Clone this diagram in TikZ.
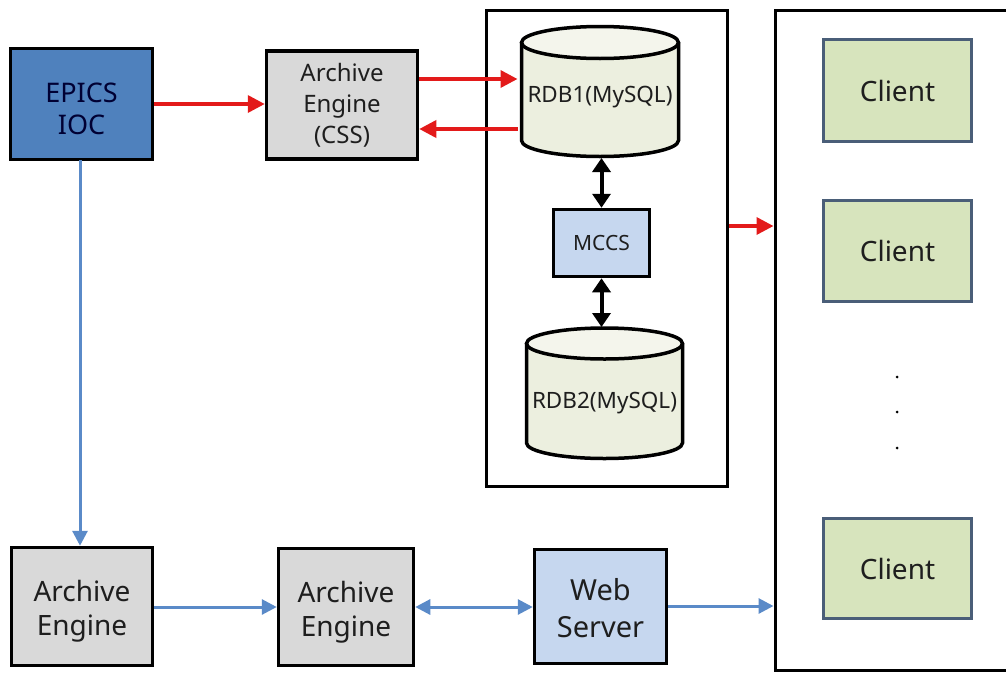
\documentclass[tikz,border=0pt]{standalone}
\usepackage{fontspec}
\setmainfont{Noto Sans}
\usetikzlibrary{arrows.meta}
\definecolor{epicsblue}{HTML}{4F81BD}
\definecolor{boxgray}{HTML}{D9D9D9}
\definecolor{lightblue}{HTML}{C6D7EF}
\definecolor{cylfill}{HTML}{ECEFDF}
\definecolor{clientfill}{HTML}{D7E4BD}
\definecolor{clientedge}{HTML}{4A5E78}
\definecolor{arrred}{HTML}{E31A1A}
\definecolor{arrblue}{HTML}{5A8AC8}
\definecolor{txt}{HTML}{1E1E1E}
\newcommand{\dbcyl}[5]{%
  \fill[cylfill] ({#1-#2},-#3) -- ({#1-#2},-#4) arc[start angle=180,end angle=360,x radius=#2,y radius=#5] -- ({#1+#2},-#3) arc[start angle=0,end angle=180,x radius=#2,y radius=#5] -- cycle;
  \fill[cylfill!60!white] (#1,-#3) ellipse[x radius=#2,y radius=#5];
  \draw[line width=3.5pt] ({#1-#2},-#3) -- ({#1-#2},-#4) arc[start angle=180,end angle=360,x radius=#2,y radius=#5] -- ({#1+#2},-#3);
  \draw[line width=3.5pt] (#1,-#3) ellipse[x radius=#2,y radius=#5];
}
\tikzset{
  box/.style={draw=black, line width=3.5pt, text=txt, align=center, inner sep=0pt},
  boxtext/.style={text=txt, align=center, inner sep=0pt},
  clientbox/.style={draw=clientedge, fill=clientfill, line width=3pt, text=txt, inner sep=0pt,
     minimum width=148pt, font=\fontsize{28}{33}\selectfont},
  frame/.style={draw=black, line width=3.5pt, anchor=north west, inner sep=0pt},
  redarrow/.style={draw=arrred, line width=3.5pt, -{Triangle[length=17pt,width=17pt]}},
  bluearrow/.style={draw=arrblue, line width=3pt, -{Triangle[length=15pt,width=15pt]}},
  bluedouble/.style={draw=arrblue, line width=3pt, {Triangle[length=15pt,width=15pt]}-{Triangle[length=15pt,width=15pt]}},
  blackdouble/.style={draw=black, line width=4pt, {Triangle[length=14pt,width=18pt]}-{Triangle[length=14pt,width=18pt]}},
  cyltext/.style={text=txt, inner sep=0pt, font=\fontsize{22.5}{26}\selectfont},
  hidden/.style={inner sep=0pt, outer sep=0pt}
}
\begin{document}
\begin{tikzpicture}[x=1pt,y=1pt]
\clip (0,0) rectangle (1006,-672);
\fill[white] (0,0) rectangle (1006,-672);

% containers
\node[frame, minimum width=241pt, minimum height=476pt] (c1) at (484.5,-8.5) {};
\node[frame, minimum width=240pt, minimum height=660pt] (c2) at (773.5,-8.5) {};

% top-left boxes
\node[box, fill=epicsblue, minimum width=142pt, minimum height=111pt] (epics) at (81.5,-104) {};
\node[boxtext, text=black!80!blue, font=\fontsize{27}{32}\selectfont] (epicst) at ([yshift=-5pt]epics.center) {EPICS\\IOC};
\node[box, fill=boxgray, minimum width=151pt, minimum height=108pt,
      font=\fontsize{24}{31}\selectfont] (aecss) at (342,-105) {Archive\\Engine\\(CSS)};

% databases
\dbcyl{600}{78.5}{42.5}{140.5}{16}
\node[hidden, minimum width=157pt, minimum height=130pt] (rdb1) at (600,-91.5) {};
\node[cyltext] (rdb1t) at (600,-97) {RDB1(MySQL)};

\node[box, fill=lightblue, minimum width=96pt, minimum height=67pt,
      font=\fontsize{21}{25}\selectfont] (mccs) at (601.5,-243) {MCCS};

\dbcyl{604.5}{78}{343.5}{443}{15.5}
\node[hidden, minimum width=156pt, minimum height=130pt] (rdb2) at (604.5,-393.5) {};
\node[cyltext] (rdb2t) at (604.5,-403) {RDB2(MySQL)};

% clients
\node[clientbox, minimum height=102pt] (cl1) at (897.5,-90.5) {Client};
\node[clientbox, minimum height=101pt] (cl2) at (897.5,-251) {Client};
\node[clientbox, minimum height=100pt] (cl3) at (897.5,-568.5) {Client};
\fill[black] (897,-377) circle (1.5pt) (897,-412) circle (1.5pt) (897,-448) circle (1.5pt);

% bottom row
\node[box, fill=boxgray, minimum width=141pt, minimum height=118pt] (ae1) at (82,-606.5) {};
\node[boxtext, font=\fontsize{28}{34}\selectfont] (ae1t) at ([yshift=-5pt]ae1.center) {Archive\\Engine};
\node[box, fill=boxgray, minimum width=135pt, minimum height=117pt] (ae2) at (346,-607) {};
\node[boxtext, font=\fontsize{28}{34}\selectfont] (ae2t) at ([yshift=-5pt]ae2.center) {Archive\\Engine};
\node[box, fill=lightblue, minimum width=132pt, minimum height=114pt,
      font=\fontsize{29}{37}\selectfont] (ws) at (600.5,-606.5) {};
\node[boxtext, font=\fontsize{29}{37}\selectfont] (wst) at ([yshift=-2pt]ws.center) {Web\\Server};

% red connectors
\draw[redarrow] (epics.east |- 0,-104) -- (aecss.west |- 0,-104);
\draw[redarrow] (aecss.east |- 0,-79) -- ([xshift=-4pt]rdb1.west |- 0,-79);
\draw[redarrow] ([xshift=-4pt]rdb1.west |- 0,-129) -- (aecss.east |- 0,-129);
\draw[redarrow] (c1.east |- 0,-226) -- (c2.west |- 0,-226);

% black connectors
\draw[blackdouble] (601.5,-158) -- (mccs.north);
\draw[blackdouble] (mccs.south) -- (601.5,-327);

% blue connectors
\draw[bluearrow] (80,-160) -- (ae1.north -| 80,0);
\draw[bluearrow] (ae1.east |- 0,-607) -- (ae2.west |- 0,-607);
\draw[bluedouble] (ae2.east |- 0,-607) -- (ws.west |- 0,-607);
\draw[bluearrow] (ws.east |- 0,-606) -- (c2.west |- 0,-606);
\end{tikzpicture}
\end{document}
